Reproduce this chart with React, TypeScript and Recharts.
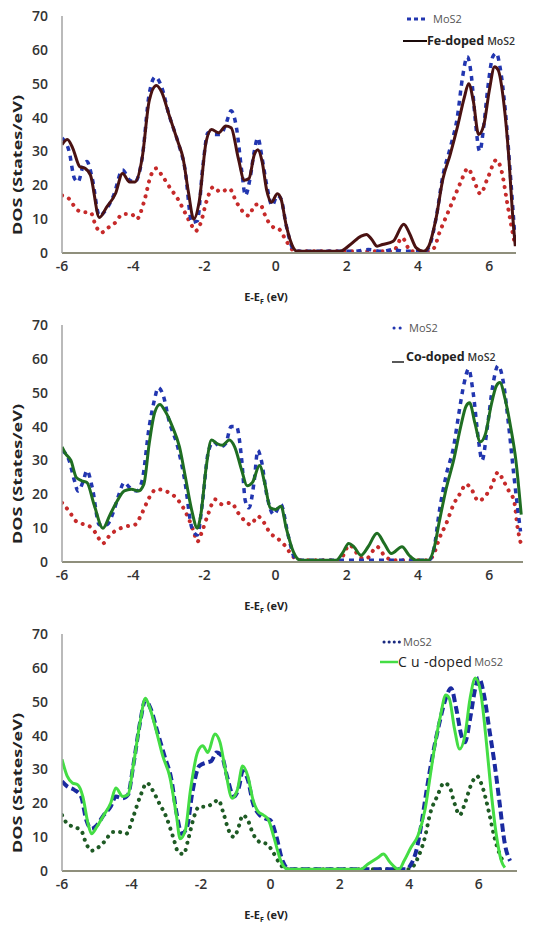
import { LineChart, Line, XAxis, YAxis } from "recharts";

type Pt = [number, number];

const xTicks = [-6, -4, -2, 0, 2, 4, 6];
const yTicks = [0, 10, 20, 30, 40, 50, 60, 70];

// panel 1: Fe-doped
const fePristine: Pt[] = [
  [-6, 34], [-5.8, 30], [-5.65, 22], [-5.55, 21], [-5.4, 26], [-5.3, 27], [-5.15, 22], [-4.95, 11],
  [-4.75, 13], [-4.55, 17], [-4.3, 24.5], [-4.1, 21.5], [-3.95, 21], [-3.75, 28], [-3.55, 47],
  [-3.38, 52], [-3.2, 49], [-3.0, 41], [-2.75, 33], [-2.55, 25], [-2.35, 9], [-2.2, 9.5],
  [-2.05, 25], [-1.9, 35.5], [-1.7, 35], [-1.55, 35], [-1.4, 38], [-1.25, 42], [-1.1, 37],
  [-0.95, 24], [-0.85, 17], [-0.72, 22], [-0.6, 30], [-0.5, 34], [-0.38, 28], [-0.25, 20],
  [-0.1, 14], [0.05, 17], [0.15, 16], [0.3, 8], [0.5, 1], [0.6, 0.5], [2.2, 0.5], [2.6, 1],
  [3.0, 0.5], [3.3, 1], [3.6, 0.5], [4.2, 0.5], [4.35, 3], [4.5, 10], [4.7, 23], [4.9, 31],
  [5.1, 40], [5.25, 52], [5.38, 58], [5.5, 52], [5.6, 40], [5.73, 30], [5.85, 38], [5.95, 48],
  [6.1, 58], [6.2, 59], [6.3, 55], [6.45, 42], [6.6, 22], [6.73, 3],
];
const feDoped: Pt[] = [
  [-6, 32], [-5.85, 33.5], [-5.7, 31], [-5.5, 25.5], [-5.35, 25], [-5.2, 23], [-4.95, 10.5],
  [-4.75, 13.5], [-4.5, 17.5], [-4.3, 23.5], [-4.1, 21], [-3.95, 21], [-3.75, 28], [-3.55, 45],
  [-3.35, 49.5], [-3.2, 47.5], [-3.0, 41], [-2.75, 33], [-2.6, 28], [-2.45, 18], [-2.3, 10],
  [-2.15, 15], [-1.95, 33], [-1.8, 36.5], [-1.6, 35.5], [-1.4, 37.5], [-1.25, 37], [-1.05, 28],
  [-0.88, 21.5], [-0.75, 22], [-0.6, 29], [-0.5, 30.5], [-0.38, 27], [-0.25, 18.5], [-0.12, 15],
  [0.05, 17.5], [0.15, 16], [0.3, 8], [0.5, 1.5], [0.6, 0.5], [1.8, 0.5], [2.1, 2.5], [2.4, 5],
  [2.55, 5.5], [2.7, 4], [2.85, 2], [3.0, 2.5], [3.3, 3.5], [3.6, 8.5], [3.75, 6], [3.95, 1.5],
  [4.15, 0.5], [4.3, 2], [4.5, 10], [4.7, 22], [4.9, 29], [5.1, 37], [5.3, 46], [5.42, 50],
  [5.55, 45], [5.7, 35], [5.85, 38], [6.0, 48], [6.15, 55], [6.25, 54], [6.4, 45], [6.55, 28],
  [6.65, 12], [6.73, 2],
];
const feHalf: Pt[] = [
  [-6, 17], [-5.8, 16], [-5.6, 13], [-5.4, 12], [-5.2, 12], [-5.05, 8], [-4.9, 6], [-4.7, 7.5],
  [-4.5, 9], [-4.3, 11.5], [-4.05, 11.5], [-3.9, 10], [-3.7, 15], [-3.5, 23], [-3.35, 25],
  [-3.2, 23], [-2.95, 19], [-2.75, 16], [-2.55, 12], [-2.35, 8], [-2.25, 6.5], [-2.1, 9],
  [-1.95, 15], [-1.75, 19.5], [-1.55, 18], [-1.3, 19], [-1.1, 15], [-0.9, 12], [-0.75, 11],
  [-0.6, 14], [-0.45, 14.5], [-0.25, 10], [-0.05, 7.5], [0.1, 7], [0.3, 3.5], [0.55, 0.5],
  [3.3, 0.5], [3.55, 4.5], [3.8, 0.5], [4.3, 0.5], [4.45, 1.5], [4.6, 6], [4.8, 11], [5.0, 16],
  [5.2, 21], [5.4, 25], [5.55, 22], [5.75, 17.5], [5.95, 22], [6.2, 27.5], [6.35, 24], [6.5, 15],
  [6.62, 8], [6.73, 2],
];

// panel 2: Co-doped
const coPristine: Pt[] = [
  [-6, 33], [-5.8, 30], [-5.65, 24], [-5.55, 21], [-5.4, 24], [-5.3, 27], [-5.15, 22], [-4.95, 11],
  [-4.75, 11], [-4.55, 15], [-4.4, 20], [-4.25, 23.5], [-4.1, 22], [-3.9, 21], [-3.75, 24],
  [-3.55, 40], [-3.4, 48], [-3.3, 51.5], [-3.15, 49], [-3.0, 42], [-2.75, 34], [-2.55, 24],
  [-2.35, 10], [-2.2, 8], [-2.05, 18], [-1.9, 32], [-1.75, 35.5], [-1.55, 34], [-1.4, 35],
  [-1.25, 40], [-1.1, 40], [-0.95, 30], [-0.85, 18], [-0.75, 16], [-0.6, 24], [-0.5, 33],
  [-0.4, 30], [-0.25, 20], [-0.05, 14], [0.15, 17], [0.35, 8], [0.55, 1], [0.7, 0.5], [4.3, 0.5],
  [4.45, 4], [4.6, 15], [4.8, 26], [5.0, 34], [5.15, 44], [5.3, 53], [5.42, 57], [5.55, 50],
  [5.7, 36], [5.8, 30], [5.95, 40], [6.1, 52], [6.25, 58], [6.4, 53], [6.55, 40], [6.7, 25],
  [6.88, 9],
];
const coDoped: Pt[] = [
  [-6, 34], [-5.9, 32], [-5.75, 30], [-5.6, 25], [-5.45, 24], [-5.3, 23.5], [-5.1, 17],
  [-4.85, 10], [-4.65, 14], [-4.45, 18], [-4.25, 21], [-4.05, 21.5], [-3.85, 21], [-3.7, 23],
  [-3.55, 35], [-3.4, 44], [-3.25, 46.5], [-3.1, 44.5], [-2.9, 40], [-2.7, 34], [-2.55, 26],
  [-2.35, 15], [-2.2, 10], [-2.1, 14], [-1.95, 28], [-1.8, 36], [-1.65, 35], [-1.5, 34.5],
  [-1.3, 36], [-1.15, 34], [-0.95, 27], [-0.8, 22.5], [-0.65, 23.5], [-0.45, 28.5], [-0.3, 23],
  [-0.15, 16], [0.0, 15.5], [0.15, 16.5], [0.3, 10], [0.5, 3], [0.7, 0.5], [1.7, 0.5], [1.9, 3],
  [2.05, 5.5], [2.2, 4.5], [2.4, 2], [2.6, 4.5], [2.85, 8.5], [3.05, 5.5], [3.25, 2.5], [3.55, 4.5],
  [3.75, 2], [3.95, 0.5], [4.3, 0.5], [4.45, 4], [4.6, 12], [4.8, 22], [5.0, 30], [5.2, 40],
  [5.35, 46], [5.45, 47], [5.6, 41], [5.75, 35.5], [5.9, 38], [6.05, 46], [6.2, 52], [6.3, 53],
  [6.45, 48], [6.6, 40], [6.75, 30], [6.9, 14],
];
const coHalf: Pt[] = [
  [-6, 17.5], [-5.8, 15], [-5.6, 12], [-5.35, 11], [-5.15, 10], [-5.0, 7.5], [-4.85, 5.5],
  [-4.65, 8], [-4.45, 9.5], [-4.2, 10.5], [-3.95, 11], [-3.75, 14.5], [-3.55, 19], [-3.35, 21.5],
  [-3.1, 21], [-2.85, 19.5], [-2.65, 17], [-2.45, 13], [-2.3, 9], [-2.2, 6], [-2.05, 9.5],
  [-1.9, 14], [-1.7, 18.5], [-1.5, 17], [-1.25, 17.5], [-1.05, 14.5], [-0.85, 12], [-0.7, 11],
  [-0.5, 13.5], [-0.35, 12], [-0.15, 8.5], [0.05, 7], [0.25, 5], [0.5, 1.5], [0.7, 0.5],
  [1.8, 0.5], [1.95, 3], [2.05, 5], [2.2, 4], [2.35, 1.5], [2.55, 1], [2.85, 4.5], [3.05, 2],
  [3.3, 0.5], [4.3, 0.5], [4.45, 2.5], [4.6, 7], [4.8, 11.5], [5.0, 17], [5.2, 20.5], [5.35, 23],
  [5.5, 21.5], [5.7, 18], [5.85, 19], [6.05, 22], [6.25, 26.5], [6.4, 24], [6.55, 21], [6.7, 18],
  [6.8, 10], [6.9, 5],
];

// panel 3: Cu-doped
const cuPristine: Pt[] = [
  [-6, 26.5], [-5.85, 25], [-5.65, 24], [-5.45, 22], [-5.3, 15], [-5.15, 12.5], [-5.0, 13.5],
  [-4.8, 16.5], [-4.6, 19], [-4.45, 22], [-4.25, 21.5], [-4.1, 22.5], [-3.95, 31], [-3.75, 44],
  [-3.6, 50.5], [-3.45, 48], [-3.25, 41], [-3.05, 34], [-2.85, 27], [-2.7, 17], [-2.55, 11],
  [-2.4, 13], [-2.25, 23], [-2.05, 31], [-1.85, 32], [-1.7, 32.5], [-1.55, 35], [-1.4, 34],
  [-1.25, 28], [-1.05, 22], [-0.9, 25], [-0.8, 29.5], [-0.65, 27], [-0.5, 20], [-0.35, 17],
  [-0.15, 15.5], [0.0, 15], [0.15, 11], [0.35, 3], [0.55, 0.5], [3.9, 0.5], [4.05, 2], [4.2, 6],
  [4.35, 14], [4.5, 24], [4.65, 33], [4.85, 43], [5.05, 51], [5.2, 54], [5.35, 48], [5.5, 40],
  [5.6, 38], [5.75, 45], [5.9, 54], [6.0, 57], [6.15, 52], [6.3, 42], [6.45, 32], [6.6, 20],
  [6.75, 8], [6.9, 3],
];
const cuDoped: Pt[] = [
  [-6, 33], [-5.85, 28], [-5.7, 26], [-5.55, 25.5], [-5.4, 22], [-5.25, 14], [-5.15, 11],
  [-5.0, 13], [-4.8, 16.5], [-4.6, 20], [-4.45, 24.5], [-4.25, 22], [-4.1, 22.5], [-3.95, 31],
  [-3.75, 44], [-3.6, 51], [-3.5, 49], [-3.3, 42], [-3.1, 34], [-2.9, 28], [-2.7, 16], [-2.6, 9.5],
  [-2.45, 12], [-2.3, 24], [-2.1, 35], [-1.95, 37], [-1.8, 35], [-1.6, 40.5], [-1.45, 38],
  [-1.3, 30], [-1.1, 21.5], [-0.95, 24], [-0.8, 31], [-0.65, 28], [-0.5, 21], [-0.35, 17.5],
  [-0.2, 16.5], [-0.05, 15], [0.1, 10], [0.3, 3], [0.5, 0.5], [2.6, 0.5], [2.8, 2], [3.1, 4],
  [3.25, 5], [3.45, 2.5], [3.7, 0.5], [3.85, 3], [4.05, 7], [4.25, 10.5], [4.45, 18], [4.6, 28],
  [4.75, 38], [4.9, 46], [5.05, 52], [5.15, 51], [5.3, 42], [5.45, 36], [5.6, 40], [5.75, 51],
  [5.9, 57], [6.05, 53], [6.2, 40], [6.35, 24], [6.5, 11], [6.65, 3], [6.75, 1],
];
const cuHalf: Pt[] = [
  [-6, 16.5], [-5.85, 14], [-5.65, 13], [-5.45, 12], [-5.3, 8], [-5.15, 6], [-4.95, 7], [-4.75, 9],
  [-4.55, 11.5], [-4.35, 11.5], [-4.15, 11], [-3.95, 16], [-3.75, 22], [-3.55, 26], [-3.4, 24],
  [-3.2, 20], [-3.0, 16], [-2.8, 10], [-2.65, 5.5], [-2.5, 5], [-2.35, 10], [-2.2, 16], [-2.05, 19],
  [-1.85, 19], [-1.65, 20], [-1.5, 21], [-1.35, 17], [-1.2, 12], [-1.05, 10], [-0.9, 13.5],
  [-0.8, 16.5], [-0.65, 15], [-0.5, 11], [-0.3, 8.5], [-0.1, 8], [0.05, 6], [0.25, 2.5],
  [0.45, 0.5], [4.0, 0.5], [4.25, 4], [4.45, 10], [4.6, 17], [4.8, 22], [5.0, 26], [5.15, 25],
  [5.3, 20], [5.45, 16.5], [5.6, 20], [5.8, 26], [5.95, 28], [6.1, 25], [6.3, 17], [6.45, 10],
  [6.6, 5], [6.75, 2],
];

const toRows = (pts: Pt[]) => pts.map(([x, y]) => ({ x, y }));

const tickFont = { fontFamily: "Open Sans", fontSize: 14, fontWeight: 600, fill: "#333" };

function XLabel() {
  return (
    <text x={266} y={301} textAnchor="middle" fontFamily="Open Sans" fontWeight={700} fontSize={11} fill="#222">
      <tspan>E-E</tspan>
      <tspan fontSize={7} dy={3}>F</tspan>
      <tspan dy={-3}> (eV)</tspan>
    </text>
  );
}

function YLabel() {
  return (
    <text
      x={17}
      y={165}
      transform="rotate(-90 17 165)"
      textAnchor="middle"
      dominantBaseline="central"
      fontFamily="Open Sans"
      fontWeight={700}
      fontSize={12}
      textLength={140}
      lengthAdjust="spacingAndGlyphs"
      fill="#222"
    >
      DOS (States/eV)
    </text>
  );
}

interface Series {
  name: string;
  points: Pt[];
  color: string;
  width: number;
  dash?: string;
  cap?: "round" | "butt";
}

interface PanelProps {
  domainMax: number;
  rightMargin: number;
  series: Series[];
  legend: React.ReactNode;
}

function DosPanel({ domainMax, rightMargin, series, legend }: PanelProps) {
  return (
    <div style={{ position: "relative", width: 549, height: 309 }}>
      <LineChart width={549} height={309} margin={{ top: 16, right: rightMargin, bottom: 0, left: 0 }}>
        <XAxis
          type="number"
          dataKey="x"
          domain={[-6, domainMax]}
          ticks={xTicks}
          allowDataOverflow
          tickLine={false}
          axisLine={{ stroke: "#8f8f7c", strokeWidth: 2 }}
          height={56}
          tick={tickFont}
          label={<XLabel />}
        />
        <YAxis
          type="number"
          domain={[0, 70]}
          ticks={yTicks}
          width={62}
          tickLine={false}
          tickMargin={8}
          axisLine={{ stroke: "#a3a3a3", strokeWidth: 1.5 }}
          tick={tickFont}
          label={<YLabel />}
        />
        {series.map((s) => (
          <Line
            key={s.name}
            data={toRows(s.points)}
            dataKey="y"
            type="monotone"
            stroke={s.color}
            strokeWidth={s.width}
            strokeDasharray={s.dash}
            strokeLinecap={s.cap ?? "butt"}
            dot={false}
            isAnimationActive={false}
          />
        ))}
      </LineChart>
      {legend}
    </div>
  );
}

const legendSmall = { fontFamily: "Open Sans", fontSize: 11, color: "#555" };
const legendBig = { fontFamily: "Open Sans", fontSize: 12.5, fontWeight: 700, color: "#222" };

function LegendRow({ top, left, sample, children }: { top: number; left: number; sample: React.ReactNode; children: React.ReactNode }) {
  return (
    <div style={{ position: "absolute", top, left, display: "flex", alignItems: "center", whiteSpace: "nowrap", lineHeight: "16px" }}>
      {sample}
      {children}
    </div>
  );
}

const blue = "#2236b0";
const red = "#c62a2a";

export default function App() {
  return (
    <div style={{ position: "absolute", left: 0, top: 0, width: 549, height: 927, background: "#fff" }}>
      <DosPanel
        domainMax={6.75}
        rightMargin={33}
        series={[
          { name: "half", points: feHalf, color: red, width: 4, dash: "0.1 7.5", cap: "round" },
          { name: "MoS2", points: fePristine, color: blue, width: 3.5, dash: "5 5" },
          { name: "Fe", points: feDoped, color: "#4a1212", width: 3 },
        ]}
        legend={
          <>
            <LegendRow
              top={11}
              left={407}
              sample={<svg width={22} height={6}><line x1={0} y1={3} x2={20} y2={3} stroke={blue} strokeWidth={3} strokeDasharray="4 3" /></svg>}
            >
              <span style={{ ...legendSmall, marginLeft: 4 }}>MoS2</span>
            </LegendRow>
            <LegendRow
              top={33}
              left={403}
              sample={<svg width={24} height={6}><line x1={0} y1={3} x2={24} y2={3} stroke="#1a0a0a" strokeWidth={2} /></svg>}
            >
              <span style={legendBig}>Fe-doped</span>
              <span style={{ ...legendSmall, fontSize: 10.5, fontWeight: 600, color: "#333", marginLeft: 3 }}>MoS2</span>
            </LegendRow>
          </>
        }
      />
      <DosPanel
        domainMax={6.95}
        rightMargin={26}
        series={[
          { name: "half", points: coHalf, color: red, width: 4, dash: "0.1 7.5", cap: "round" },
          { name: "MoS2", points: coPristine, color: blue, width: 3.5, dash: "5 5" },
          { name: "Co", points: coDoped, color: "#1f6e22", width: 3 },
        ]}
        legend={
          <>
            <LegendRow
              top={11}
              left={392}
              sample={<svg width={14} height={6}><line x1={2} y1={3} x2={12} y2={3} stroke={blue} strokeWidth={3} strokeDasharray="0.1 6" strokeLinecap="round" /></svg>}
            >
              <span style={{ ...legendSmall, marginLeft: 3 }}>MoS2</span>
            </LegendRow>
            <LegendRow
              top={40}
              left={392}
              sample={<svg width={14} height={16}><line x1={0} y1={13} x2={12} y2={13} stroke="#222" strokeWidth={1.5} /></svg>}
            >
              <span style={legendBig}>Co-doped</span>
              <span style={{ ...legendSmall, fontSize: 10.5, fontWeight: 600, color: "#333", marginLeft: 3 }}>MoS2</span>
            </LegendRow>
          </>
        }
      />
      <DosPanel
        domainMax={7.1}
        rightMargin={32}
        series={[
          { name: "half", points: cuHalf, color: "#1e5a24", width: 4, dash: "0.1 7", cap: "round" },
          { name: "MoS2", points: cuPristine, color: "#1a2aa0", width: 4, dash: "8 4" },
          { name: "Cu", points: cuDoped, color: "#44dd44", width: 3 },
        ]}
        legend={
          <>
            <LegendRow
              top={16}
              left={382}
              sample={<svg width={20} height={6}><line x1={2} y1={3} x2={18} y2={3} stroke="#1a2a80" strokeWidth={3} strokeDasharray="0.1 5" strokeLinecap="round" /></svg>}
            >
              <span style={{ ...legendSmall, marginLeft: 1 }}>MoS2</span>
            </LegendRow>
            <LegendRow
              top={36}
              left={380}
              sample={<svg width={18} height={6}><line x1={0} y1={3} x2={18} y2={3} stroke="#44dd44" strokeWidth={2.5} /></svg>}
            >
              <span style={{ ...legendBig, fontWeight: 400, fontSize: 14, letterSpacing: 0.3 }}>C u -doped</span>
              <span style={{ ...legendSmall, marginLeft: 2 }}>MoS2</span>
            </LegendRow>
          </>
        }
      />
    </div>
  );
}
